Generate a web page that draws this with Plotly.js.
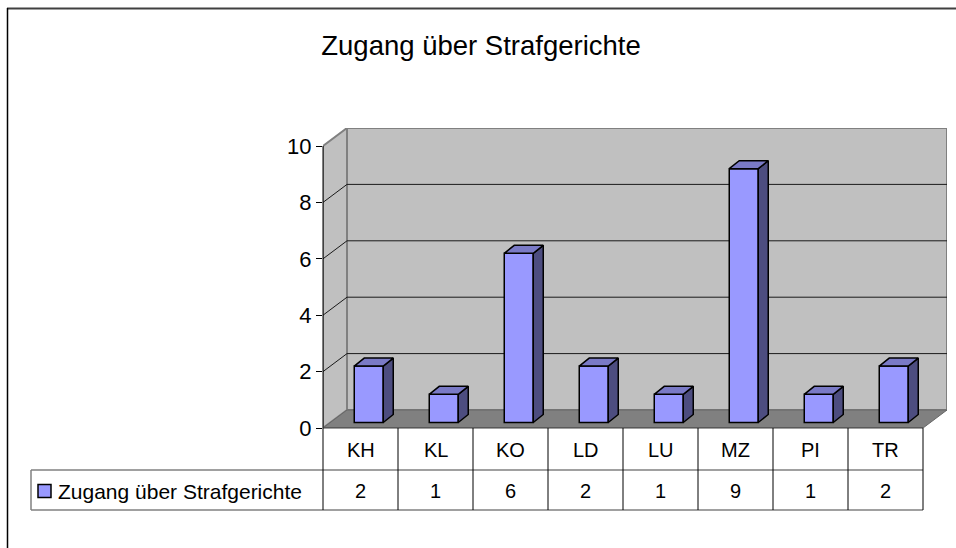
<!DOCTYPE html>
<html>
<head>
<meta charset="utf-8">
<script src="https://cdn.plot.ly/plotly-3.0.1.min.js"></script>
<style>
html,body{margin:0;padding:0;background:#fff;}
#chart{width:956px;height:548px;}
</style>
</head>
<body>
<div id="chart"></div>
<script>
// ---- data ----
const categories = ['KH', 'KL', 'KO', 'LD', 'LU', 'MZ', 'PI', 'TR'];
const values = [2, 1, 6, 2, 1, 9, 1, 2];
const seriesName = 'Zugang über Strafgerichte';
const titleText = 'Zugang über Strafgerichte';
const yTickVals = [0, 2, 4, 6, 8, 10];
const yTickText = ['0', '2', '4', '6', '8', '10'];

// ---- geometry (pixel layout of the figure) ----
const FIG_W = 956, FIG_H = 548;
const PL = 323, PR = 9, PT = 128, PB = 120;
const PW = FIG_W - PL - PR, PH = FIG_H - PT - PB;
const N = categories.length;
const WALL_DX = 24 / 75;          // depth offset in x data units
const X_MAX = N + WALL_DX;
const Y_UNIT = 28.2;              // px per value unit
const WALL_DY = 18 / Y_UNIT;
const Y_MAX = PH / Y_UNIT;
const YMAXTICK = yTickVals[yTickVals.length - 1];

const FX = 0.11, FY = 5.5 / Y_UNIT;   // bar front-face depth offset
const BW = 29 / 75;                   // bar width
const BDX = 10 / 75, BDY = 8 / Y_UNIT; // bar depth

const pxX = px => (px - PL) / PW;
const pxY = py => (FIG_H - PB - py) / PH;
const dX = d => d / X_MAX;

const shapes = [];
const font = 'Liberation Sans, Arial, sans-serif';

// outer frame
shapes.push({type:'line', xref:'paper', yref:'paper', x0:pxX(7), x1:pxX(FIG_W+20), y0:pxY(8.5), y1:pxY(8.5), line:{color:'#404040', width:2}});
shapes.push({type:'line', xref:'paper', yref:'paper', x0:pxX(7.5), x1:pxX(7.5), y0:pxY(8), y1:pxY(FIG_H+20), line:{color:'#000', width:1.5}});

// back wall
shapes.push({type:'rect', xref:'x', yref:'y', layer:'below', x0:WALL_DX, x1:X_MAX, y0:WALL_DY, y1:YMAXTICK + WALL_DY,
  fillcolor:'#C0C0C0', line:{color:'#808080', width:2}});
// side wall
shapes.push({type:'path', xref:'x', yref:'y', layer:'below',
  path:`M0,0 L${WALL_DX},${WALL_DY} L${WALL_DX},${YMAXTICK + WALL_DY} L0,${YMAXTICK} Z`,
  fillcolor:'#C0C0C0', line:{color:'#808080', width:2}});
// gridlines
yTickVals.forEach(v => {
  if (v === 0 || v === YMAXTICK) return;
  shapes.push({type:'line', xref:'x', yref:'y', layer:'below', x0:WALL_DX, x1:X_MAX, y0:v + WALL_DY, y1:v + WALL_DY, line:{color:'#1a1a1a', width:1}});
  shapes.push({type:'line', xref:'x', yref:'y', layer:'below', x0:0, x1:WALL_DX, y0:v, y1:v + WALL_DY, line:{color:'#1a1a1a', width:1}});
});
// floor
shapes.push({type:'path', xref:'x', yref:'y', layer:'below',
  path:`M0,0 L${N},0 L${X_MAX},${WALL_DY} L${WALL_DX},${WALL_DY} Z`,
  fillcolor:'#808080', line:{color:'#666666', width:1}});

// y axis line
shapes.push({type:'line', xref:'paper', yref:'paper', x0:0, x1:0, y0:pxY(FIG_H - PB), y1:pxY(FIG_H - PB - YMAXTICK * Y_UNIT), line:{color:'#000', width:1}});

// data table
const rowTop = FIG_H - PB, rowMid = 470, rowBot = 510, legLeft = 31;
shapes.push({type:'line', xref:'paper', yref:'paper', x0:0, x1:dX(N), y0:pxY(rowTop), y1:pxY(rowTop), line:{color:'#404040', width:1}});
shapes.push({type:'line', xref:'paper', yref:'paper', x0:pxX(legLeft), x1:dX(N), y0:pxY(rowMid), y1:pxY(rowMid), line:{color:'#808080', width:1.5}});
shapes.push({type:'line', xref:'paper', yref:'paper', x0:pxX(legLeft), x1:dX(N), y0:pxY(rowBot), y1:pxY(rowBot), line:{color:'#808080', width:1.5}});
shapes.push({type:'line', xref:'paper', yref:'paper', x0:pxX(legLeft), x1:pxX(legLeft), y0:pxY(rowMid), y1:pxY(rowBot), line:{color:'#808080', width:1.5}});
for (let i = 0; i <= N; i++) {
  shapes.push({type:'line', xref:'paper', yref:'paper', x0:dX(i), x1:dX(i), y0:pxY(rowTop), y1:pxY(rowBot), line:{color:'#000', width:1}});
}
// legend key
shapes.push({type:'rect', xref:'paper', yref:'paper', x0:pxX(38), x1:pxX(51), y0:pxY(484.5), y1:pxY(497.5), fillcolor:'#9999FF', line:{color:'#000', width:1.5}});

const annotations = [];
categories.forEach((c, i) => {
  annotations.push({xref:'paper', yref:'paper', x:dX(i + 0.5), y:pxY((rowTop + rowMid) / 2 + 1), text:c, showarrow:false,
    xanchor:'center', yanchor:'middle', font:{family:font, size:20, color:'#000'}});
  annotations.push({xref:'paper', yref:'paper', x:dX(i + 0.5), y:pxY((rowMid + rowBot) / 2 + 1), text:String(values[i]), showarrow:false,
    xanchor:'center', yanchor:'middle', font:{family:font, size:20, color:'#000'}});
});
annotations.push({xref:'paper', yref:'paper', x:pxX(56), y:pxY((rowMid + rowBot) / 2 + 1), text:seriesName, showarrow:false,
  xanchor:'left', yanchor:'middle', font:{family:font, size:21, color:'#000'}});

// bars
const cx = categories.map((c, i) => i + 0.5 + FX);
const sideX = [], sideY = [], topX = [], topY = [];
values.forEach((v, i) => {
  const xl = cx[i] - BW / 2, xr = cx[i] + BW / 2, yt = FY + v;
  sideX.push(xr, xr + BDX, xr + BDX, xr, xr, null);
  sideY.push(FY, FY + BDY, yt + BDY, yt, FY, null);
  topX.push(xl, xl + BDX, xr + BDX, xr, xl, null);
  topY.push(yt, yt + BDY, yt + BDY, yt, yt, null);
});

const traces = [
  {type:'bar', x:cx, y:values, base:FY, width:BW, name:seriesName,
   marker:{color:'#9999FF', line:{color:'#000', width:1.5}}, hoverinfo:'skip'},
  {type:'scatter', mode:'lines', x:sideX, y:sideY, fill:'toself', fillcolor:'#4D4D80',
   line:{color:'#000', width:1.5}, hoverinfo:'skip'},
  {type:'scatter', mode:'lines', x:topX, y:topY, fill:'toself', fillcolor:'#7A7AC6',
   line:{color:'#000', width:1.5}, hoverinfo:'skip'}
];

const layout = {
  width:FIG_W, height:FIG_H,
  margin:{l:PL, r:PR, t:PT, b:PB, pad:0},
  paper_bgcolor:'#fff', plot_bgcolor:'rgba(0,0,0,0)',
  showlegend:false, hovermode:false,
  title:{text:titleText, font:{family:font, size:27.5, color:'#000'}, xref:'container', yref:'container',
    x:481 / FIG_W, y:1 - 45 / FIG_H, xanchor:'center', yanchor:'middle'},
  xaxis:{range:[0, X_MAX], visible:false, fixedrange:true},
  yaxis:{range:[0, Y_MAX], tickvals:yTickVals, ticktext:yTickText, ticks:'outside', ticklen:6, tickwidth:1, tickcolor:'#000',
    showgrid:false, zeroline:false, showline:false, fixedrange:true,
    tickfont:{family:font, size:22, color:'#000'}},
  shapes:shapes, annotations:annotations
};

Plotly.newPlot('chart', traces, layout, {staticPlot:true, displayModeBar:false});
</script>
</body>
</html>
